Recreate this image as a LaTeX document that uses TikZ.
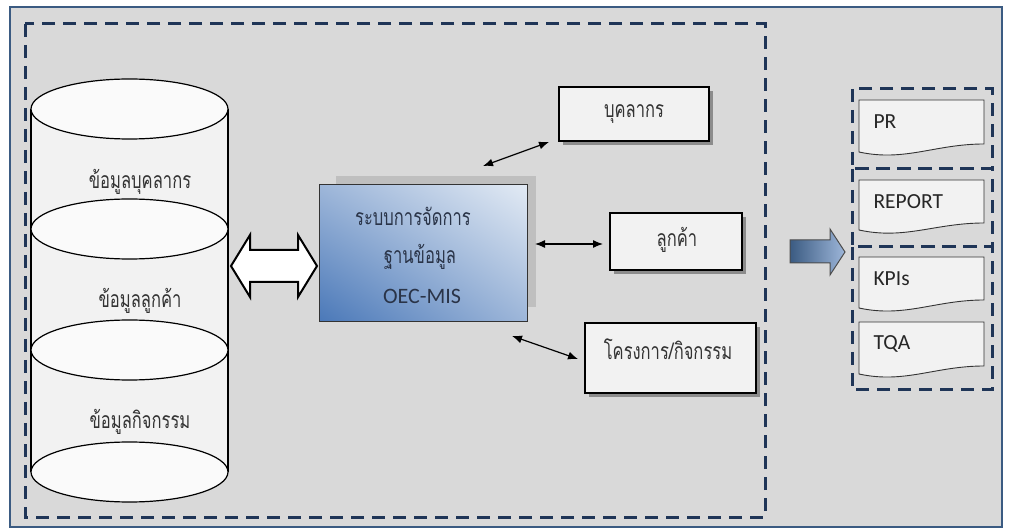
\documentclass[tikz,border=0pt]{standalone}
\usepackage{fontspec}
\setmainfont{Carlito}
\newfontfamily\thai[Script=Thai,FakeStretch=0.72]{Loma}
\usetikzlibrary{arrows.meta,shadows,shadings}
\definecolor{bgc}{HTML}{D9D9D9}
\definecolor{framec}{HTML}{3B5B82}
\definecolor{dashc}{HTML}{1F3557}
\definecolor{boxfill}{HTML}{F2F2F2}
\definecolor{txtc}{HTML}{333333}
\definecolor{bluedark}{HTML}{4A78B8}
\definecolor{bluelight}{HTML}{E2EAF4}
\definecolor{bluemid}{HTML}{9DB6D9}
\definecolor{mistxt}{HTML}{2A3448}
\begin{document}
\begin{tikzpicture}[x=1pt,y=-1pt,
  dashbox/.style={draw=dashc,line width=3pt,dash pattern=on 13pt off 8pt},
  plainbox/.style={draw=black,line width=2.5pt,fill=boxfill,
     drop shadow={shadow xshift=4pt,shadow yshift=-4pt,fill=black!45,opacity=1}},
  thaitxt/.style={font=\thai\fontsize{23}{26}\selectfont,text=txtc},
  doctxt/.style={font=\fontsize{21.5}{25}\selectfont,text=black!85,anchor=west},
  smallarrow/.style={{Latex[length=10pt,width=8pt]}-{Latex[length=10pt,width=8pt]},line width=1.2pt},
  docshape/.style={draw=black!80,line width=0.9pt,fill=boxfill}]
\useasboundingbox (0,0) rectangle (1010,529);
\fill[white] (0,0) rectangle (1010,529);
% outer frame
\draw[draw=framec,fill=bgc,line width=2pt] (10,7) rectangle (1002,527);
% inner dashed area
\draw[dashbox] (25,24) rectangle (765,517);

% cylinder
\fill[boxfill] (31,109) rectangle (228,472);
\draw[line width=1.2pt] (31,109) -- (31,472);
\draw[line width=1.2pt] (228,109) -- (228,472);
\foreach \cy in {109,229,350,472}{
  \draw[line width=1.2pt,fill=white!60!boxfill] (129.5,\cy) ellipse [x radius=98.5,y radius=30];
}
\node[thaitxt] (c1) at (140,182) {ข้อมูลบุคลากร};
\node[thaitxt] (c2) at (140,301) {ข้อมูลลูกค้า};
\node[thaitxt] (c3) at (140,422) {ข้อมูลกิจกรรม};

% double block arrow
\draw[line width=2pt,fill=white,line join=miter]
  (231,266) -- (250,235) -- (250,250) -- (298,250) -- (298,235) -- (317,266)
  -- (298,297) -- (298,282) -- (250,282) -- (250,297) -- cycle;

% central box
\fill[black!25] (336,176) rectangle (536,307);
\shade[lower left=bluedark,upper right=bluelight,upper left=bluemid,lower right=bluemid]
  (319,185) rectangle (527,322);
\node[draw=black!80,line width=1pt,minimum width=208pt,minimum height=137pt,inner sep=0pt]
  (mis) at (423,253.5) {};
\node[font=\thai\fontsize{23}{26}\selectfont,text=mistxt] (m1) at (413,216) {ระบบการจัดการ};
\node[font=\thai\fontsize{23}{26}\selectfont,text=mistxt] (m2) at (420,257) {ฐานข้อมูล};
\node[font=\fontsize{22}{26}\selectfont,text=mistxt] (m3) at (422,296) {OEC-MIS};

% right boxes
\node[plainbox,minimum width=150pt,minimum height=54pt,inner sep=0pt] (b1) at (634,114) {};
\node[thaitxt] at (634,114) {บุคลากร};
\node[plainbox,minimum width=132pt,minimum height=57pt,inner sep=0pt] (b2) at (676,241.5) {};
\node[thaitxt] at (677,240) {ลูกค้า};
\node[plainbox,minimum width=171pt,minimum height=70pt,inner sep=0pt] (b3) at (670.5,358) {};
\node[thaitxt] at (668,349) {โครงการ/กิจกรรม};

% small arrows
\coordinate (a1s) at (483,166); \coordinate (a1e) at (549,142);
\coordinate (a2s) at (535,244); \coordinate (a2e) at (603,244);
\coordinate (a3s) at (512,336); \coordinate (a3e) at (578,359);
\draw[smallarrow] (a1s) -- (a1e);
\draw[smallarrow] (a2s) -- (a2e);
\draw[smallarrow] (a3s) -- (a3e);

% blue block arrow
\shade[left color=framec,right color=bluemid,draw=black!70,line width=1pt]
  (790,240) -- (830,240) -- (830,229) -- (845,252) -- (830,275) -- (830,263) -- (790,263) -- cycle;

% right dashed groups
\draw[dashbox] (852,89) rectangle (992,169);
\draw[dashbox] (852,169) rectangle (992,247);
\draw[dashbox] (852,247) rectangle (992,390);

% documents
\foreach \t/\bl/\br/\nm/\lab in {100/152/144/d1/PR,180/230/223/d2/REPORT,257/308/300/d3/KPIs,322/374/366/d4/TQA}{
  \draw[docshape] (859,\t) -- (984,\t) -- (984,\br)
     .. controls (935,\br) and (905,\bl+10) .. (859,\bl) -- cycle;
  \node[doctxt] (\nm) at (870,\t+22) {\lab};
}
\end{tikzpicture}
\end{document}
